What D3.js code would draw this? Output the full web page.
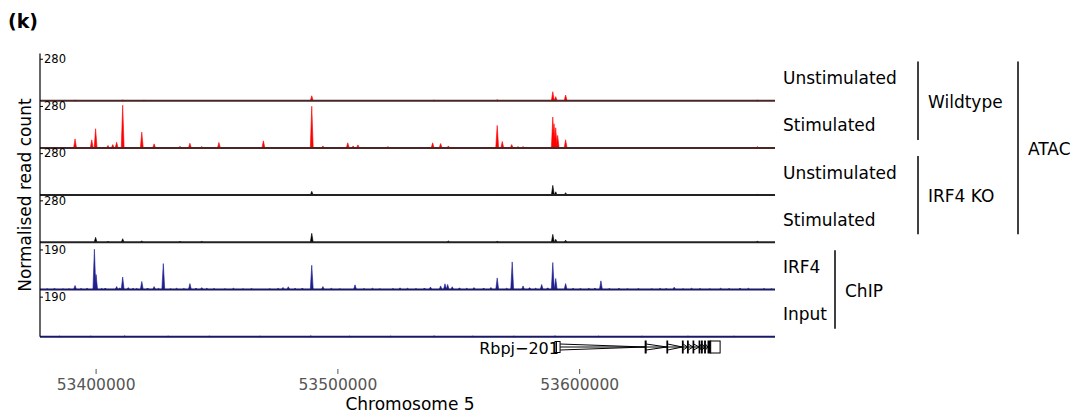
<!DOCTYPE html>
<html>
<head>
<meta charset="utf-8">
<script src="https://cdn.jsdelivr.net/npm/d3@7"></script>
<style>
  body { margin: 0; background: #fff; }
  svg { display: block; font-family: "DejaVu Sans", sans-serif; }
</style>
</head>
<body>
<div id="app"></div>
<script>
// track labels and groups
const trackNames = ['Unstimulated', 'Stimulated', 'Unstimulated', 'Stimulated', 'IRF4', 'Input'];
const trackMax = [315, 315, 315, 315, 224, 224];
const trackTicks = [280, 280, 280, 280, 190, 190];
const trackColors = ['#ff0000', '#ff0000', '#000000', '#000000', '#1f1f8f', '#1f1f8f'];
const baseColors = ['#4a2626', '#4a2626', '#222222', '#222222', '#1a1a66', '#1a1a66'];

const xTicks = [53400000, 53500000, 53600000];
const xDomain = [53377000, 53681000];

// peaks: [position, normalised read count]
const atacWtUnstim = [
  [53391500, 4], [53411200, 5], [53420000, 3], [53489400, 33], [53540000, 4],
  [53566100, 6], [53589100, 60], [53590300, 27], [53594400, 38], [53673700, 4]
];
const atacWtStim = [
  [53391500, 60], [53398400, 54], [53400000, 128], [53405100, 16], [53407100, 22],
  [53408700, 38], [53411200, 285], [53419100, 105], [53424200, 27], [53434900, 11],
  [53439000, 31], [53443900, 9], [53451000, 36], [53469400, 47], [53489400, 278],
  [53494000, 13], [53504300, 34], [53506500, 13], [53508500, 20], [53520900, 9],
  [53539400, 34], [53542700, 29], [53545900, 13], [53553200, 4], [53566100, 150],
  [53568200, 43], [53572100, 22], [53574700, 9], [53576800, 9], [53589100, 206],
  [53589600, 161], [53590300, 134], [53591100, 83], [53594400, 54], [53673700, 9]
];
const atacKoUnstim = [
  [53400000, 4], [53489400, 25], [53566100, 5], [53589100, 65], [53590300, 22],
  [53594400, 16], [53673700, 5]
];
const atacKoStim = [
  [53400000, 33], [53405100, 6], [53411200, 24], [53419100, 10], [53434900, 5],
  [53443900, 6], [53489400, 60], [53545900, 9], [53566100, 7], [53589100, 53],
  [53590300, 20], [53594400, 14], [53673700, 7]
];
const chipIrf4 = [
  [53391500, 19], [53399500, 191], [53400200, 71], [53408700, 14], [53411200, 59],
  [53413500, 9], [53419100, 38], [53424200, 14], [53428000, 123], [53439000, 28],
  [53443900, 9], [53479700, 13], [53489400, 115], [53494000, 14], [53507300, 22],
  [53525900, 8], [53542700, 17], [53544500, 27], [53545600, 24], [53566100, 55],
  [53572300, 131], [53576800, 17], [53584500, 24], [53589100, 128], [53590300, 52],
  [53594400, 28], [53609000, 41], [53639300, 11]
];
const chipIrf4Bg = [
  [53380000, 4], [53383000, 5], [53386500, 3], [53389000, 4], [53394000, 5],
  [53396500, 6], [53402500, 5], [53404000, 7], [53410000, 8], [53415500, 6],
  [53417000, 5], [53421500, 7], [53426000, 5], [53431000, 4], [53433500, 6],
  [53436500, 5], [53441500, 7], [53446000, 6], [53449000, 5], [53453500, 4],
  [53457000, 6], [53461000, 4], [53464500, 5], [53472000, 4], [53475500, 6],
  [53477500, 10], [53482500, 6], [53485500, 7], [53497500, 6], [53501000, 4],
  [53511000, 5], [53514500, 6], [53517500, 4], [53523000, 5], [53529000, 6],
  [53532500, 5], [53536000, 7], [53538500, 12], [53547500, 13], [53550500, 8],
  [53553500, 6], [53556500, 9], [53560500, 7], [53563500, 10], [53570000, 6],
  [53579500, 9], [53582000, 6], [53587000, 8], [53597500, 6], [53600500, 5],
  [53604000, 6], [53606500, 7], [53612500, 5], [53616500, 6], [53620000, 4],
  [53624500, 5], [53630000, 4], [53633500, 6], [53636000, 5], [53643000, 4],
  [53646500, 6], [53650000, 5], [53654000, 4], [53658500, 6], [53662000, 5],
  [53666500, 7], [53670000, 6], [53676500, 5], [53679500, 4]
];
const chipInput = [
  [53385000, 3], [53398000, 3], [53412000, 4], [53430000, 3], [53447000, 3],
  [53468000, 3], [53489000, 4], [53505000, 3], [53522000, 3], [53540000, 4],
  [53556000, 3], [53573000, 3], [53590000, 4], [53608000, 3], [53626000, 3],
  [53645000, 3], [53664000, 3]
];
const trackPeaks = [atacWtUnstim, atacWtStim, atacKoUnstim, atacKoStim, chipIrf4.concat(chipIrf4Bg), chipInput];

// gene Rbpj-201: exons [start, end]
const geneName = 'Rbpj\u2212201';
const geneExons = [
  [53627300, 53627700], [53636300, 53636600], [53642700, 53643000], [53644800, 53645100],
  [53647100, 53647400], [53649600, 53649900], [53650600, 53650900], [53651900, 53652200],
  [53653300, 53654400]
];
const geneFirst = [53590000, 53592100];
const geneUtr = [53654400, 53658300];

// groups on the right
const groups = [
  { label: 'Wildtype', from: 0, to: 1, x: 918 },
  { label: 'IRF4 KO', from: 2, to: 3, x: 918 },
  { label: 'ATAC', from: 0, to: 3, x: 1018 },
  { label: 'ChIP', from: 4, to: 5, x: 835 }
];

const W = 1071, H = 415;
const plot = { left: 40, right: 775, top: 53.5, trackH: 47.2 };
const halfW = 600;

const svg = d3.select('#app').append('svg')
  .attr('width', W)
  .attr('height', H);

svg.append('rect').attr('width', W).attr('height', H).attr('fill', '#fff');

const x = d3.scaleLinear().domain(xDomain).range([plot.left, plot.right]);

const tracks = svg.append('g');

trackNames.forEach((name, i) => {
  const top = plot.top + i * plot.trackH;
  const bottom = top + plot.trackH;
  const y = d3.scaleLinear().domain([0, trackMax[i]]).range([bottom, top]);

  const g = tracks.append('g');

  const area = d3.area()
    .x(d => x(d[0]))
    .y0(y(0))
    .y1(d => y(d[1]));

  g.selectAll('path.peak')
    .data(trackPeaks[i])
    .enter()
    .append('path')
    .attr('class', 'peak')
    .attr('d', d => area([[d[0] - halfW, 0], [d[0], d[1]], [d[0] + halfW, 0]]))
    .attr('fill', trackColors[i])
    .attr('stroke', trackColors[i])
    .attr('stroke-width', 0.6);

  g.append('line')
    .attr('x1', plot.left).attr('x2', plot.right)
    .attr('y1', y(0)).attr('y2', y(0))
    .attr('stroke', baseColors[i])
    .attr('stroke-width', 2);

  const axis = g.append('g')
    .attr('transform', `translate(${plot.left},0)`)
    .call(d3.axisRight(y).tickValues([trackTicks[i]]).tickSize(3).tickPadding(1));
  axis.select('.domain').remove();
  axis.selectAll('text').attr('font-size', 11.5).attr('font-family', '"DejaVu Sans", sans-serif').attr('fill', '#000');
  axis.selectAll('line').attr('stroke', '#000');

  svg.append('text')
    .attr('x', 783)
    .attr('y', top + plot.trackH / 2 + 2)
    .attr('dominant-baseline', 'middle')
    .attr('font-size', 17)
    .text(name);
});

// left spine
svg.append('line')
  .attr('x1', plot.left).attr('x2', plot.left)
  .attr('y1', plot.top).attr('y2', plot.top + 6 * plot.trackH)
  .attr('stroke', '#000')
  .attr('stroke-width', 1.2);

// group brackets
groups.forEach(gr => {
  const y1 = plot.top + gr.from * plot.trackH + 8;
  const y2 = plot.top + (gr.to + 1) * plot.trackH - 8;
  svg.append('line')
    .attr('x1', gr.x).attr('x2', gr.x)
    .attr('y1', y1).attr('y2', y2)
    .attr('stroke', '#000')
    .attr('stroke-width', 1.5);
  svg.append('text')
    .attr('x', gr.x + 10)
    .attr('y', (y1 + y2) / 2 + 2)
    .attr('dominant-baseline', 'middle')
    .attr('font-size', 17)
    .text(gr.label);
});

// gene track
const gMid = 347;
const gene = svg.append('g').attr('stroke', '#000').attr('fill', 'none').attr('stroke-width', 1);
const introns = [[geneFirst[1], geneExons[0][0]]];
for (let k = 0; k < geneExons.length - 1; k++) introns.push([geneExons[k][1], geneExons[k + 1][0]]);

introns.forEach(d => {
  gene.append('line').attr('x1', x(d[0])).attr('x2', x(d[1])).attr('y1', gMid).attr('y2', gMid);
  gene.append('polyline')
    .attr('points', `${x(d[0])},${gMid - 3} ${x(d[1])},${gMid} ${x(d[0])},${gMid + 3}`);
});

gene.selectAll('rect.exon')
  .data(geneExons)
  .enter()
  .append('rect')
  .attr('class', 'exon')
  .attr('x', d => x(d[0]))
  .attr('width', d => Math.max(0.5, x(d[1]) - x(d[0])))
  .attr('y', gMid - 6)
  .attr('height', 12)
  .attr('fill', '#000');

gene.append('rect')
  .attr('x', x(geneFirst[0])).attr('width', x(geneFirst[1]) - x(geneFirst[0]))
  .attr('y', gMid - 5.5).attr('height', 11)
  .attr('fill', '#fff');
gene.append('line')
  .attr('x1', x(geneFirst[0]) + 1.5).attr('x2', x(geneFirst[0]) + 1.5)
  .attr('y1', gMid - 5.5).attr('y2', gMid + 5.5);

gene.append('rect')
  .attr('x', x(geneUtr[0])).attr('width', x(geneUtr[1]) - x(geneUtr[0]))
  .attr('y', gMid - 6).attr('height', 12)
  .attr('fill', '#fff');

svg.append('text')
  .attr('x', x(geneFirst[0]) + 4)
  .attr('y', gMid + 7)
  .attr('text-anchor', 'end')
  .attr('font-size', 16)
  .text(geneName);

// x axis
const xAxis = svg.append('g')
  .attr('transform', 'translate(0,369)')
  .call(d3.axisBottom(x).tickValues(xTicks).tickFormat(d3.format('d')).tickSize(5).tickPadding(5));
xAxis.select('.domain').remove();
xAxis.selectAll('line').attr('stroke', '#555');
xAxis.selectAll('text')
  .attr('font-size', 15.5)
  .attr('font-family', '"DejaVu Sans", sans-serif')
  .attr('fill', '#555');

svg.append('text')
  .attr('x', 410)
  .attr('y', 410)
  .attr('text-anchor', 'middle')
  .attr('font-size', 17)
  .text('Chromosome 5');

svg.append('text')
  .attr('transform', `translate(31,${plot.top + 3 * plot.trackH}) rotate(-90)`)
  .attr('text-anchor', 'middle')
  .attr('font-size', 17)
  .text('Normalised read count');

svg.append('text')
  .attr('x', 8)
  .attr('y', 28)
  .attr('font-size', 19)
  .attr('font-weight', 'bold')
  .text('(k)');
</script>
</body>
</html>
